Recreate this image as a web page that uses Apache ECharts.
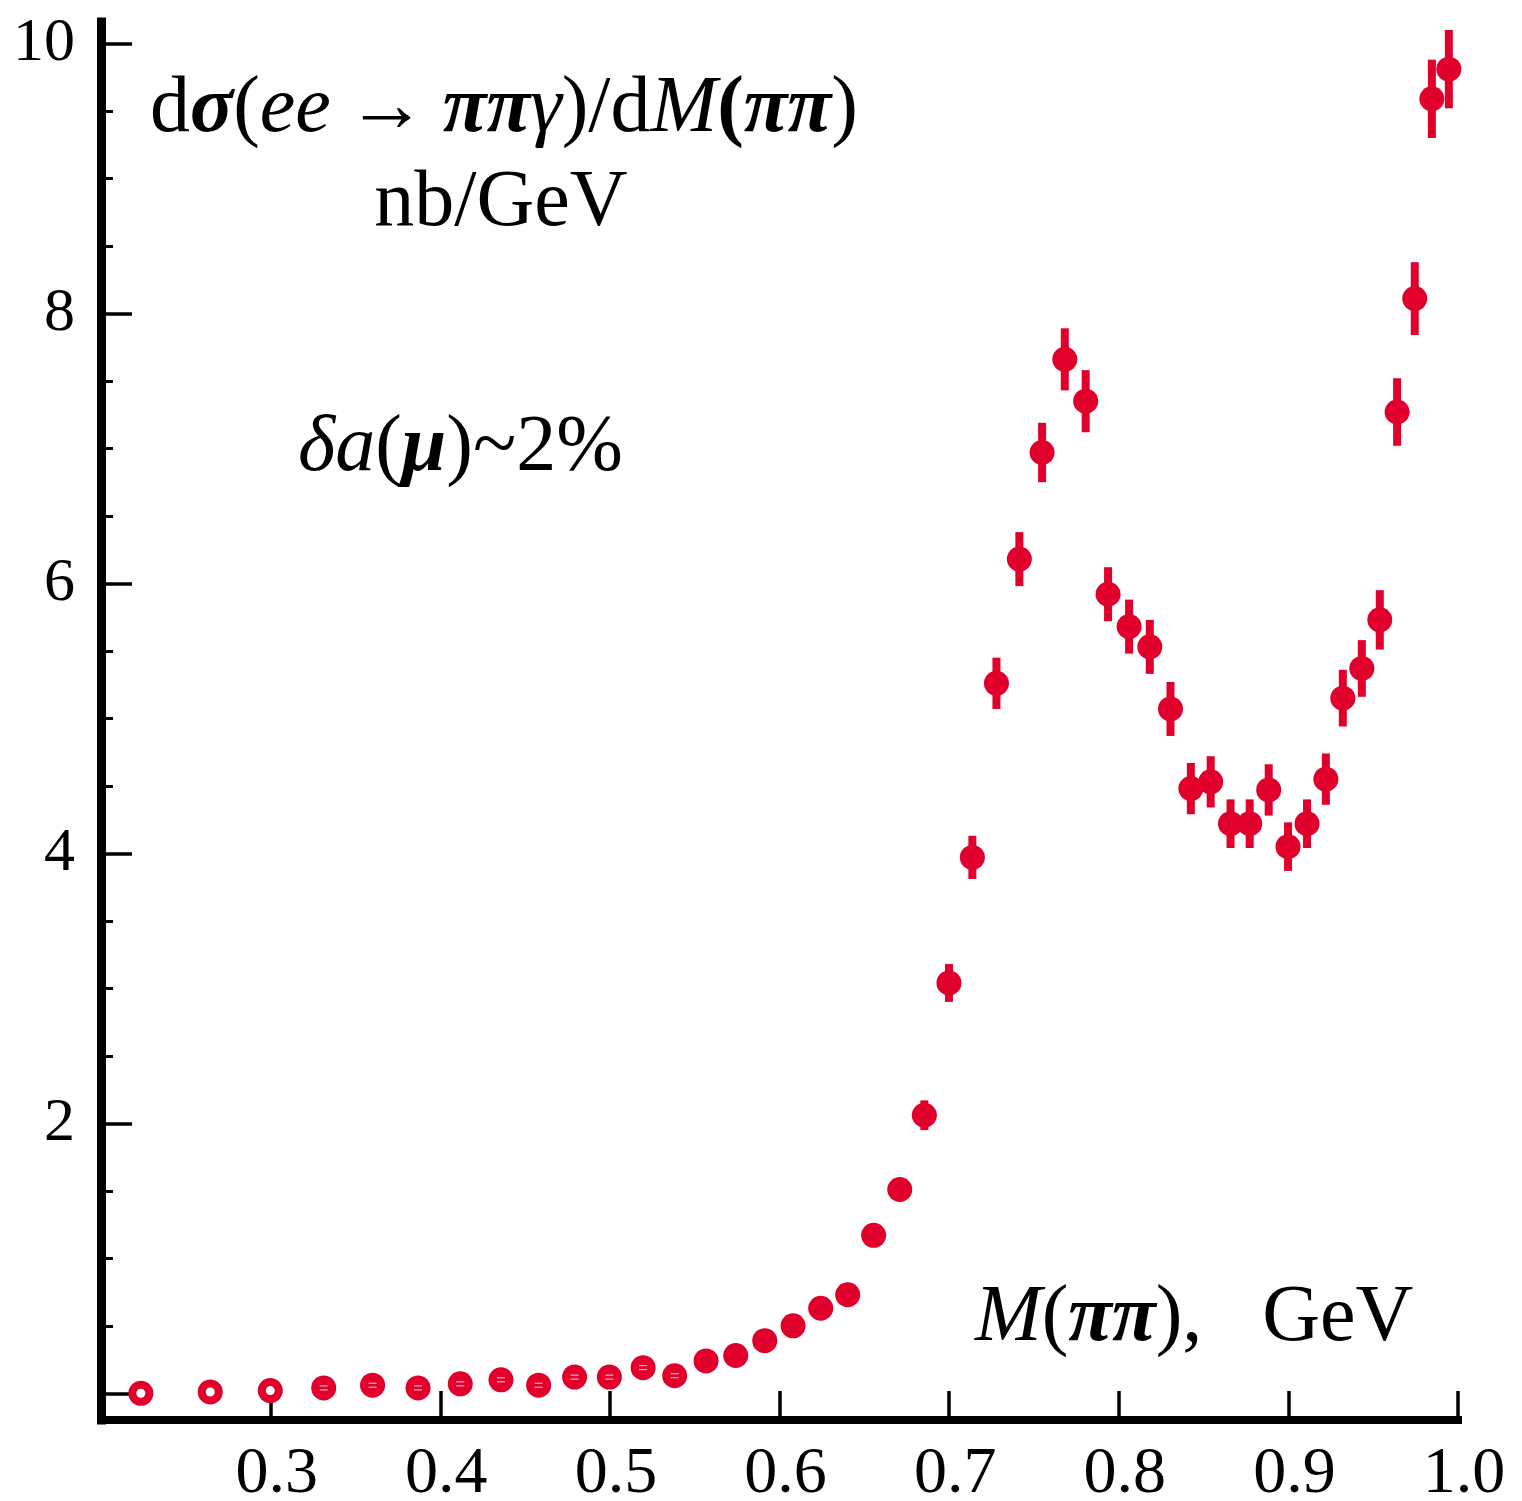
<!DOCTYPE html>
<html><head><meta charset="utf-8">
<script src="https://cdn.jsdelivr.net/npm/echarts/dist/echarts.min.js"></script>
<style>html,body{margin:0;padding:0;background:#fff}#c{width:1522px;height:1501px}</style>
</head><body><div id="c"></div>
<script>
// M(pi pi), GeV
const mass = [0.2235,0.2644,0.2998,0.3313,0.3601,0.3869,0.4118,0.4358,0.4580,0.4792,
  0.4997,0.5196,0.5382,0.5567,0.5742,0.5913,0.6080,0.6243,0.6402,0.6555,
  0.6709,0.6854,0.6999,0.7137,0.7279,0.7414,0.7548,0.7682,0.7805,0.7937,
  0.8061,0.8183,0.8305,0.8425,0.8542,0.8659,0.8772,0.8884,0.8998,0.9110,
  0.9221,0.9321,0.9433,0.9539,0.9641,0.9745,0.9846,0.9946];
// dsigma/dM, nb/GeV
const sigma = [0.00,0.01,0.02,0.04,0.06,0.04,0.07,0.10,0.06,0.12,
  0.12,0.19,0.13,0.24,0.28,0.39,0.50,0.63,0.73,1.17,
  1.51,2.06,3.04,3.97,5.26,6.18,6.97,7.66,7.35,5.92,
  5.68,5.53,5.07,4.48,4.53,4.22,4.22,4.47,4.05,4.22,
  4.55,5.15,5.37,5.73,7.27,8.11,9.59,9.81];
// errors
const sigmaErr = [0.01,0.01,0.01,0.01,0.01,0.01,0.01,0.02,0.02,0.02,
  0.02,0.02,0.02,0.03,0.03,0.03,0.04,0.04,0.04,0.06,
  0.08,0.11,0.14,0.16,0.19,0.20,0.22,0.23,0.23,0.20,
  0.20,0.20,0.20,0.19,0.19,0.18,0.18,0.19,0.18,0.18,
  0.19,0.21,0.21,0.22,0.25,0.27,0.29,0.29];
const xTickLabels = ['0.3','0.4','0.5','0.6','0.7','0.8','0.9','1.0'];
const yTickLabels = ['2','4','6','8','10'];
const nOpen = 3;      // first points drawn as open rings
const nMarked = 13;   // points drawn with inner white marks

const RED = '#e0002b';
const FONT = '"Liberation Serif", "DejaVu Serif", serif';
const FS = 80;

const chart = echarts.init(document.getElementById('c'), null, {renderer: 'canvas'});

function renderItem(params, api) {
  const i = params.dataIndex;
  const x = api.value(0), y = api.value(1), e = api.value(2);
  const c = api.coord([x, y]);
  const top = api.coord([x, y + e]);
  const bot = api.coord([x, y - e]);
  const children = [
    {type: 'rect', shape: {x: c[0] - 4, y: top[1], width: 8, height: bot[1] - top[1]}, style: {fill: RED}},
    {type: 'circle', shape: {cx: c[0], cy: c[1], r: 12.5}, style: {fill: RED}}
  ];
  if (i < nOpen) {
    children.push({type: 'circle', shape: {cx: c[0], cy: c[1], r: 4.5}, style: {fill: '#fff'}});
  } else if (i < nMarked) {
    children.push({type: 'rect', shape: {x: c[0] - 4, y: c[1] - 2.5, width: 8, height: 1}, style: {fill: '#fff', opacity: 0.8}});
    children.push({type: 'rect', shape: {x: c[0] - 4, y: c[1] + 1.5, width: 8, height: 1}, style: {fill: '#fff', opacity: 0.8}});
  }
  return {type: 'group', children: children};
}

const rich = {
  n: {fontFamily: FONT, fontSize: FS, fontStyle: 'normal', fill: '#000'},
  i: {fontFamily: FONT, fontSize: FS, fontStyle: 'italic', fill: '#000'},
  bi: {fontFamily: FONT, fontSize: FS, fontStyle: 'italic', fontWeight: 'bold', fill: '#000'},
  b: {fontFamily: FONT, fontSize: FS, fontWeight: 'bold', fill: '#000'}
};

const option = {
  animation: false,
  backgroundColor: '#fff',
  grid: [
    {left: 101, right: 64, top: 43.5, bottom: 107.7, outerBoundsMode: 'none', containLabel: false},
    {left: 101, right: 64, top: 22, bottom: 81, outerBoundsMode: 'none', containLabel: false}
  ],
  xAxis: [
    {gridIndex: 0, type: 'value', min: 0.2, max: 1.0, show: false},
    {gridIndex: 1, type: 'value', min: 0.2, max: 1.0, interval: 0.1,
      axisLine: {onZero: false, lineStyle: {color: '#000', width: 8, cap: 'square'}},
      axisTick: {inside: true, length: 29, lineStyle: {color: '#000', width: 3.5}},
      axisLabel: {
        formatter: function (v) { const s = v.toFixed(1); return xTickLabels.indexOf(s) >= 0 ? s : ''; },
        fontFamily: FONT, fontSize: 66, color: '#000', margin: 22, padding: [0, 0, 0, 12]
      },
      splitLine: {show: false}
    }
  ],
  yAxis: [
    {gridIndex: 0, type: 'value', min: 0, max: 10, interval: 2,
      axisLine: {show: false},
      axisTick: {show: true, inside: true, length: 31, lineStyle: {color: '#000', width: 3.5}},
      minorTick: {show: true, splitNumber: 4, length: 12, lineStyle: {color: '#000', width: 3}},
      axisLabel: {
        formatter: function (v) { const s = String(Math.round(v)); return yTickLabels.indexOf(s) >= 0 ? s : ''; },
        fontFamily: FONT, fontSize: 62, color: '#000', margin: 26, padding: [0, 0, 14, 0]
      },
      splitLine: {show: false}, minorSplitLine: {show: false}
    },
    {gridIndex: 1, type: 'value', min: 0, max: 1,
      axisLine: {show: true, onZero: false, lineStyle: {color: '#000', width: 9, cap: 'square'}},
      axisTick: {show: false}, axisLabel: {show: false}, splitLine: {show: false}
    }
  ],
  series: [{
    type: 'custom',
    xAxisIndex: 0, yAxisIndex: 0,
    clip: false,
    renderItem: renderItem,
    data: mass.map((m, k) => [m, sigma[k], sigmaErr[k]]),
    z: 10
  }],
  graphic: [
    {type: 'text', x: 150, y: 110, style: {
      text: '{n|d}{bi|σ}{n|(}{i|ee}{b|\u2009→\u2009}{bi|ππ}{i|γ}{n|)/d}{i|M}{b|(}{bi|ππ}{n|)}',
      rich: rich, fontFamily: FONT, fontSize: FS, textAlign: 'left', textVerticalAlign: 'middle'}},
    {type: 'text', x: 501, y: 204, style: {
      text: '{n|nb/GeV}', rich: rich, fontFamily: FONT, fontSize: FS, textAlign: 'center', textVerticalAlign: 'middle'}},
    {type: 'text', x: 298, y: 449, style: {
      text: '{i|δa}{n|(}{bi|μ}{n|)~2%}', rich: rich, fontFamily: FONT, fontSize: FS, textAlign: 'left', textVerticalAlign: 'middle'}},
    {type: 'text', x: 975, y: 1319, style: {
      text: '{i|M}{n|(}{bi|ππ}{n|),   GeV}', rich: rich, fontFamily: FONT, fontSize: FS, textAlign: 'left', textVerticalAlign: 'middle'}}
  ]
};
chart.setOption(option);
</script>
</body></html>
